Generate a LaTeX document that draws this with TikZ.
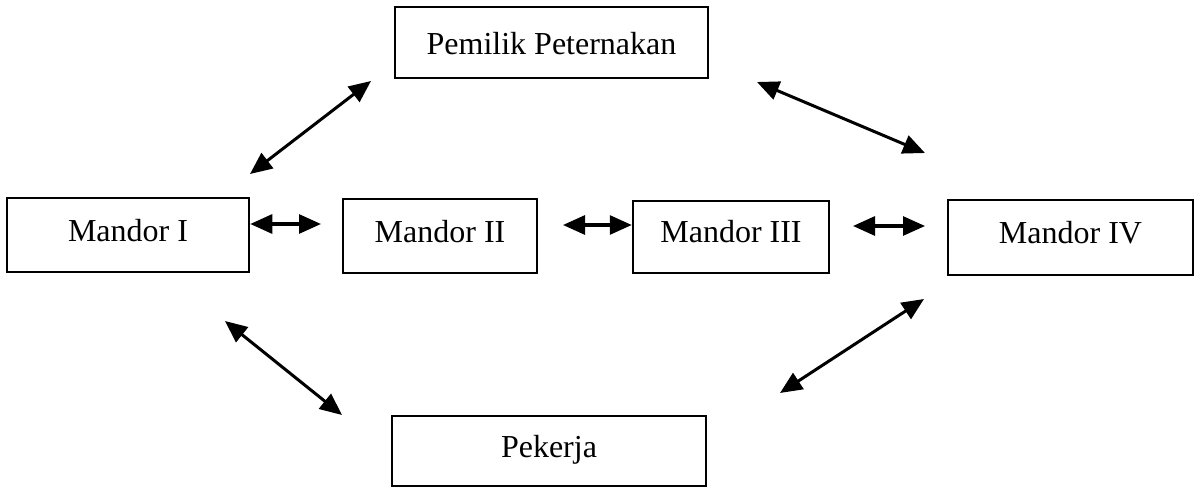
\documentclass[tikz,border=0pt]{standalone}
\usepackage{fontspec}
\setmainfont{Liberation Serif}
\usetikzlibrary{arrows.meta}
\tikzset{
  box/.style={draw, line width=2.5pt, rectangle, inner sep=0pt,
    font=\fontsize{32}{38}\selectfont, text height=22pt, text depth=10pt},
  link/.style={line width=3pt, {Triangle[length=22pt,width=19pt]}-{Triangle[length=22pt,width=19pt]}}
}
\begin{document}
\begin{tikzpicture}[x=1pt,y=-1pt]
\useasboundingbox[fill=white] (0,0) rectangle (1199,489);
\node[box, minimum width=313pt, minimum height=71pt, text height=28pt, text depth=3pt] (own) at (551.5,42.5) {Pemilik Peternakan};
\node[box, minimum width=242pt, minimum height=74pt] (m1) at (128,235) {Mandor I};
\node[box, minimum width=194pt, minimum height=74pt] (m2) at (440,236) {Mandor II};
\node[box, minimum width=196pt, minimum height=72pt] (m3) at (731,237) {Mandor III};
\node[box, minimum width=245pt, minimum height=75pt] (m4) at (1070.5,237.5) {Mandor IV};
\node[box, minimum width=314pt, minimum height=70pt] (wk) at (549,451) {Pekerja};
\coordinate (a1s) at (250,174); \coordinate (a1e) at (371,81);
\coordinate (a2s) at (757,82);  \coordinate (a2e) at (925,153);
\coordinate (h1e) at (321,224);
\coordinate (h2s) at (563,225);
\coordinate (h3s) at (853,226); \coordinate (h3e) at (925,226);
\coordinate (a3s) at (225,321); \coordinate (a3e) at (342,415);
\coordinate (a4s) at (780,393); \coordinate (a4e) at (924,299);
\draw[link] (a1s) -- (a1e);
\draw[link] (a2s) -- (a2e);
\draw[link] (m1.east |- h1e) -- (h1e);
\draw[link] (h2s) -- (m3.west |- h2s);
\draw[link] (h3s) -- (h3e);
\draw[link] (a3s) -- (a3e);
\draw[link] (a4s) -- (a4e);
\end{tikzpicture}
\end{document}
